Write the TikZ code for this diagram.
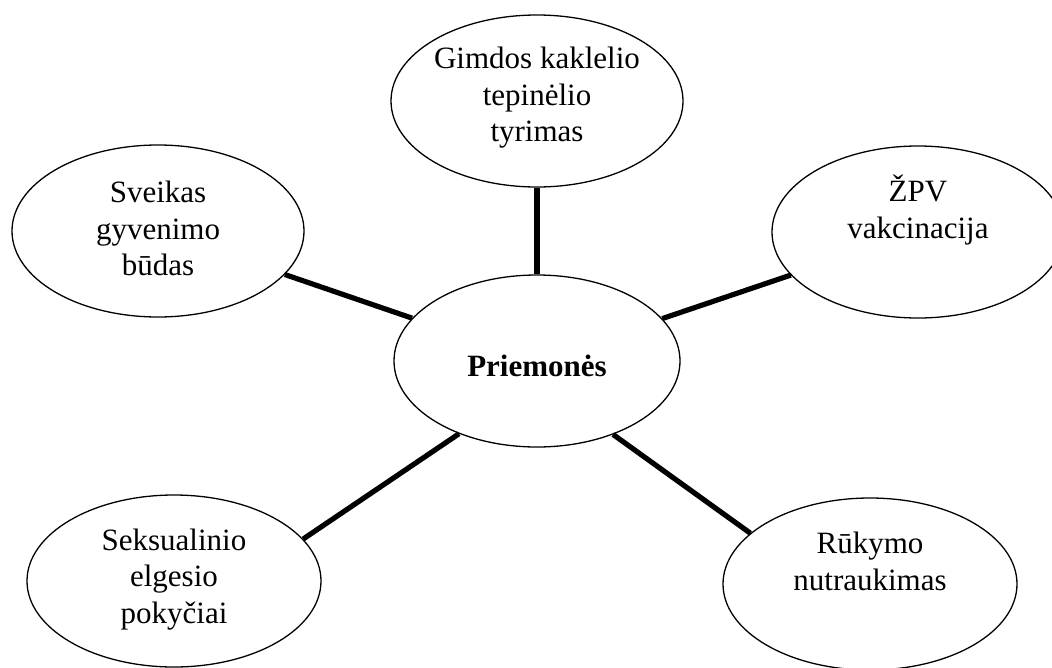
\documentclass[tikz,border=0pt]{standalone}
\usepackage{fontspec}
\setmainfont{Liberation Serif}
\usetikzlibrary{shapes.geometric}
\begin{document}
\begin{tikzpicture}[x=1pt,y=-1pt,
  oval/.style={draw=black, fill=white, ellipse, line width=1.3pt, inner sep=0pt,
               minimum width=292pt, minimum height=172pt},
  lbl/.style={align=center, inner sep=0pt, font=\fontsize{31}{36.5}\selectfont},
  conn/.style={line width=5.2pt}]
\useasboundingbox (0,0) rectangle (1052,667);
\clip (0,0) rectangle (1052,667);
% ellipses
\node[oval, minimum width=286pt] (c)  at (537,361) {};
\node[oval] (t)  at (537,101) {};
\node[oval] (lt) at (158,231) {};
\node[oval] (rt) at (918,232) {};
\node[oval, minimum width=294pt] (lb) at (174,581) {};
\node[oval, minimum width=294pt] (rb) at (870,584) {};
% texts
\node[lbl, font=\fontsize{31}{36.5}\selectfont\bfseries] (ct) at (537,366) {Priemonės};
\node[lbl] (tt)  at (537,98)  {Gimdos kaklelio\\tepinėlio\\tyrimas};
\node[lbl] (ltt) at (158,228.5) {Sveikas\\gyvenimo\\būdas};
\node[lbl] (rtt) at (918,210) {ŽPV\\vakcinacija};
\node[lbl] (lbt) at (174,579.5) {Seksualinio\\elgesio\\pokyčiai};
\node[lbl] (rbt) at (870,561.5) {Rūkymo\\nutraukimas};
% connectors
\draw[conn] (t.south) -- (c.north);
\draw[conn] (c) -- (lt);
\draw[conn] (c) -- (rt);
\draw[conn] (c.223) -- (lb.18);
\draw[conn] (c.316) -- (rb.157);
\end{tikzpicture}
\end{document}
